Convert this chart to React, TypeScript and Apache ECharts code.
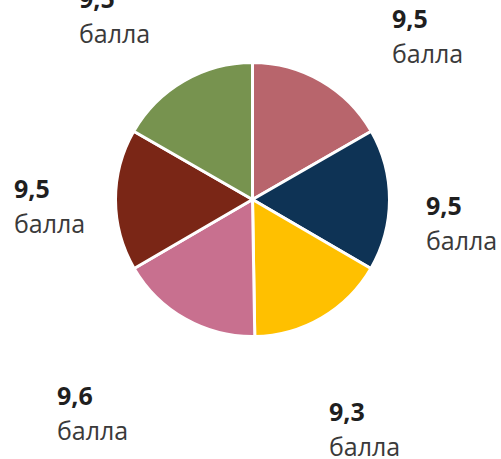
import React, { useEffect, useRef } from "react";
import * as echarts from "echarts";

const categories = ["A", "B", "C", "D", "E", "F"];
const values = [9.5, 9.5, 9.3, 9.6, 9.5, 9.5];
const valueLabels = ["9,5", "9,5", "9,3", "9,6", "9,5", "9,5"];
const unitLabel = "балла";
const colors = ["#B8656C", "#0E3355", "#FFC000", "#C8708F", "#7A2616", "#77934F"];
// label anchor points (left x, vertical middle y) as placed in the reference
const labelAnchors: [number, number][] = [
  [392, 35],
  [426, 222],
  [329, 428],
  [57, 412],
  [14, 205],
  [79, 15],
];

export default function App() {
  const ref = useRef<HTMLDivElement>(null);
  useEffect(() => {
    if (!ref.current) return;
    const chart = echarts.init(ref.current, undefined, { renderer: "svg" });
    chart.setOption({
      animation: false,
      backgroundColor: "#ffffff",
      series: [
        {
          type: "pie",
          center: [252.5, 199.5],
          radius: [0, 137],
          startAngle: 90,
          clockwise: true,
          data: categories.map((c, i) => ({
            name: c,
            value: values[i],
            itemStyle: { color: colors[i] },
          })),
          itemStyle: { borderColor: "#ffffff", borderWidth: 3 },
          label: {
            show: true,
            position: "outside",
            overflow: "none",
            formatter: (p: any) => `{v|${valueLabels[p.dataIndex]}}\n{u|${unitLabel}}`,
            rich: {
              v: {
                fontFamily: "Open Sans",
                fontSize: 25,
                fontWeight: "bold",
                color: "#1f1f1f",
                lineHeight: 35,
              },
              u: {
                fontFamily: "Open Sans",
                fontSize: 25,
                color: "#3a3a3a",
                lineHeight: 35,
              },
            },
          },
          labelLine: { show: false },
          labelLayout: (p: any) => ({
            x: labelAnchors[p.dataIndex][0],
            y: labelAnchors[p.dataIndex][1],
            align: "left",
            verticalAlign: "middle",
            width: 120,
          }),
          emphasis: { disabled: true },
        },
      ],
    });
    return () => chart.dispose();
  }, []);
  return (
    <div
      ref={ref}
      style={{ position: "fixed", left: 0, top: 0, width: 501, height: 459 }}
    />
  );
}
